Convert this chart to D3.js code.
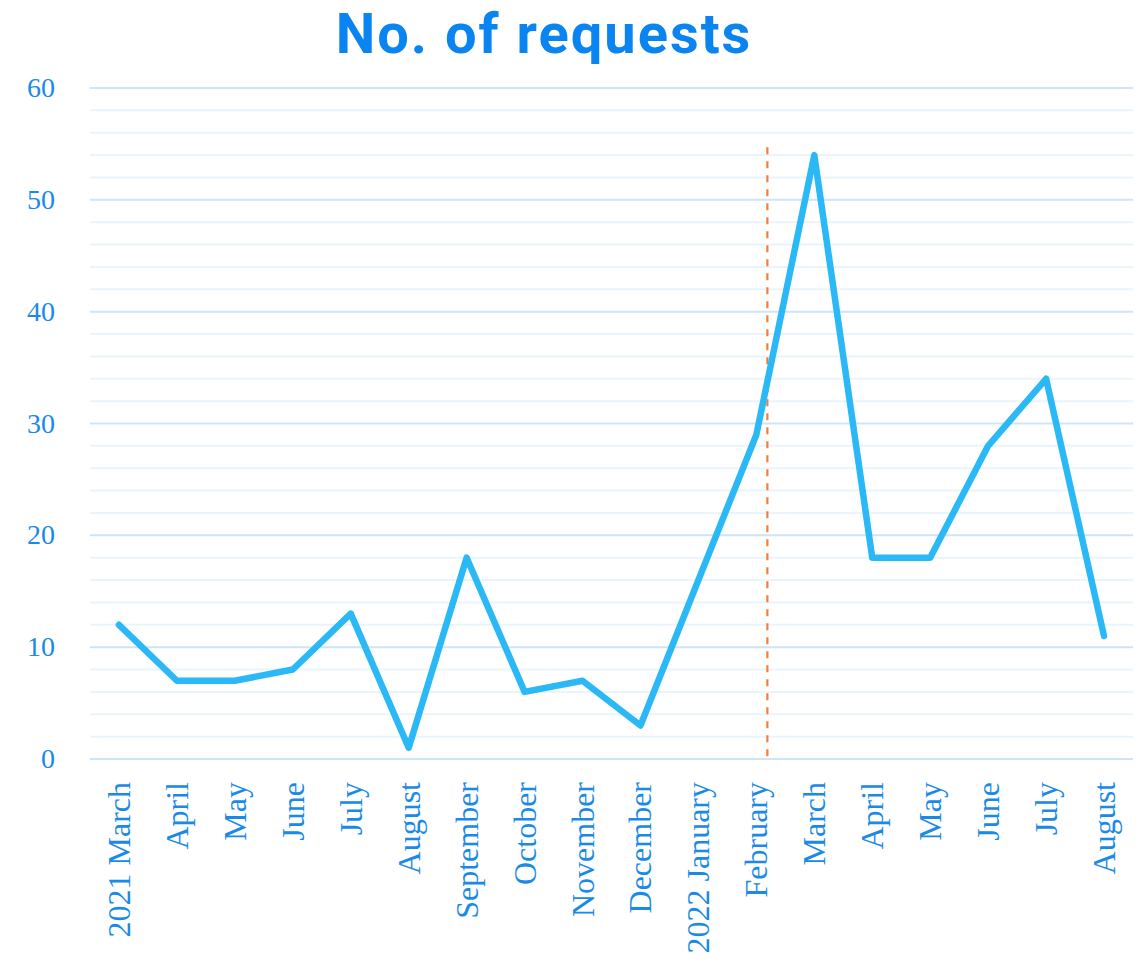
<!DOCTYPE html>
<html><head><meta charset="utf-8">
<script src="https://cdn.jsdelivr.net/npm/d3@7"></script>
<style>body{margin:0;background:#fff}</style>
</head><body>
<svg id="c" width="1141" height="970"></svg>
<script>
const categories = ["2021 March","April","May","June","July","August","September","October","November","December","2022 January","February","March","April","May","June","July","August"];
const requests = [12,7,7,8,13,1,18,6,7,3,16,29,54,18,18,28,34,11];
const yTicks = [0,10,20,30,40,50,60];
const markerIndex = 11;      // February 2022
const markerOffset = 0.19;   // fraction of a step after February
const markerTop = 54.7;

const W = 1141, H = 970;
const m = {left: 90, right: 8, top: 88, bottom: 211};
const svg = d3.select("#c");
const keys = categories.map((d,i)=>i);
const x = d3.scalePoint().domain(keys).range([m.left, W - m.right]).padding(0.5);
const y = d3.scaleLinear().domain([0,60]).range([H - m.bottom, m.top]);

svg.append("text").attr("x", 544).attr("y", 53).attr("text-anchor","middle")
  .attr("font-family","Roboto, sans-serif").attr("font-weight",700).attr("font-size",56)
  .attr("letter-spacing",2)
  .attr("fill","#0a84f1").text("No. of requests");

const minor = d3.range(0, 61, 2).filter(v => v % 10 !== 0);
svg.append("g").selectAll("line").data(minor).join("line")
  .attr("x1", m.left).attr("x2", W - m.right)
  .attr("y1", d=>y(d)).attr("y2", d=>y(d))
  .attr("stroke","#e9f4fd").attr("stroke-width",2);
svg.append("g").selectAll("line").data(yTicks).join("line")
  .attr("x1", m.left).attr("x2", W - m.right)
  .attr("y1", d=>y(d)).attr("y2", d=>y(d))
  .attr("stroke","#cde5fa").attr("stroke-width",2);

svg.append("g").selectAll("text").data(yTicks).join("text")
  .attr("x", 55).attr("y", d=>y(d)+9).attr("text-anchor","end")
  .attr("font-family","Liberation Serif, serif").attr("font-size",28)
  .attr("fill","#1a8ae8").text(d=>d);

const step = x.step();
const mx = x(markerIndex) + markerOffset*step;
svg.append("line").attr("x1",mx).attr("x2",mx).attr("y1",y(markerTop)).attr("y2",y(0))
  .attr("stroke","#f07f3c").attr("stroke-width",2.2).attr("stroke-dasharray","7,7");

const line = d3.line().x((d,i)=>x(i)).y(d=>y(d));
svg.append("path").datum(requests).attr("d", line)
  .attr("fill","none").attr("stroke","#2bb8f6").attr("stroke-width",6.5)
  .attr("stroke-linejoin","round").attr("stroke-linecap","round");

svg.append("g").selectAll("text").data(keys).join("text")
  .attr("transform", d=>`translate(${x(d)+11},${782}) rotate(-90)`)
  .attr("text-anchor","end")
  .attr("font-family","Liberation Serif, serif").attr("font-size",32)
  .attr("fill","#1a8ae8").text(d=>categories[d]);
</script>
</body></html>
